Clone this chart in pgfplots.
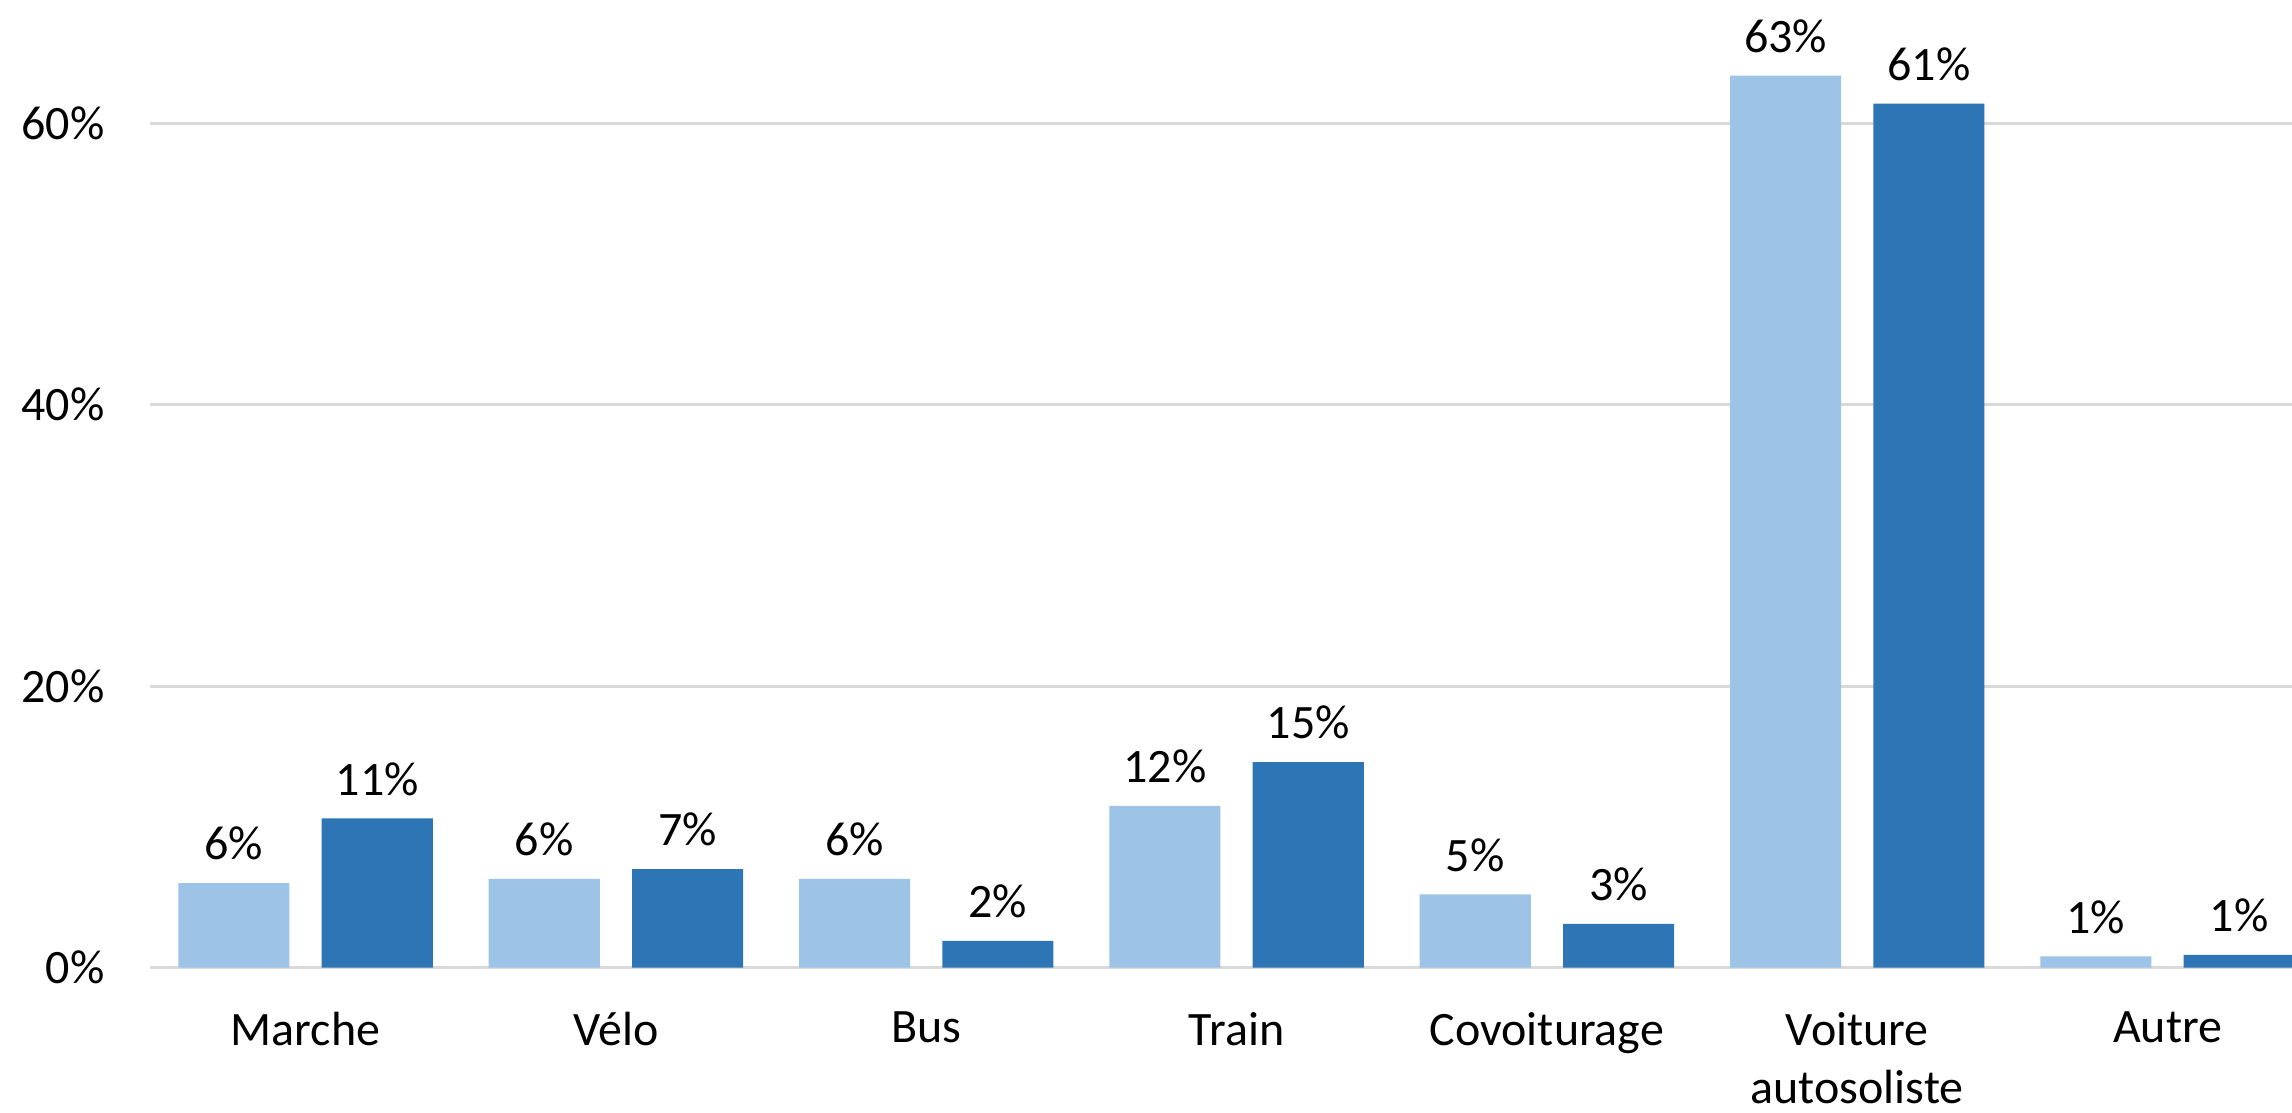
\documentclass[border=0pt]{standalone}
\usepackage{fontspec}
\setmainfont{Carlito}
\usepackage{pgfplots}
\pgfplotsset{compat=1.18}
\definecolor{lightbar}{HTML}{9DC3E6}
\definecolor{darkbar}{HTML}{2E75B6}
\definecolor{gridc}{HTML}{D9D9D9}
\begin{document}
\fontsize{12}{14.6}\selectfont
\begin{tikzpicture}
\begin{axis}[
  at={(0,0)}, anchor=south west,
  scale only axis, width=535.4pt, height=241.9pt,
  xmin=-0.5, xmax=6.401, ymin=0, ymax=68.77,
  axis line style={draw=none},
  ytick={0,20,40,60}, yticklabels={0\%,20\%,40\%,60\%},
  xtick={0,1,2,3,4,5,6},
  xticklabels={Marche,Vélo,Bus,Train,Covoiturage,{Voiture\\autosoliste},Autre},
  major tick length=0pt, tick style={draw=none},
  ymajorgrids, grid style={draw=gridc, line width=0.75pt},
  ybar, bar width=0.358, bar shift=0pt,
  nodes near coords={\pgfplotspointmeta\%},
  point meta=explicit symbolic,
  nodes near coords style={anchor=base, inner sep=0pt, yshift=5.8pt, text=black},
  yticklabel style={anchor=east, inner sep=0pt, xshift=-11.3pt},
  xticklabel style={anchor=north, inner sep=0pt, yshift=-10.9pt, align=center},
]
\addplot[fill=lightbar, draw=none] table[meta=lab] {
x y lab
-0.231 6.0 6
0.769 6.3 6
1.769 6.3 6
2.769 11.5 12
3.769 5.2 5
4.769 63.4 63
5.769 0.8 1
};
\addplot[fill=darkbar, draw=none] table[meta=lab] {
x y lab
0.231 10.6 11
1.231 7.0 7
2.231 1.9 2
3.231 14.6 15
4.231 3.1 3
5.231 61.4 61
6.231 0.9 1
};
\end{axis}
\pgfresetboundingbox
\path (-37.6pt,-36.2pt) rectangle (535.4pt,241.9pt);
\end{tikzpicture}
\end{document}
